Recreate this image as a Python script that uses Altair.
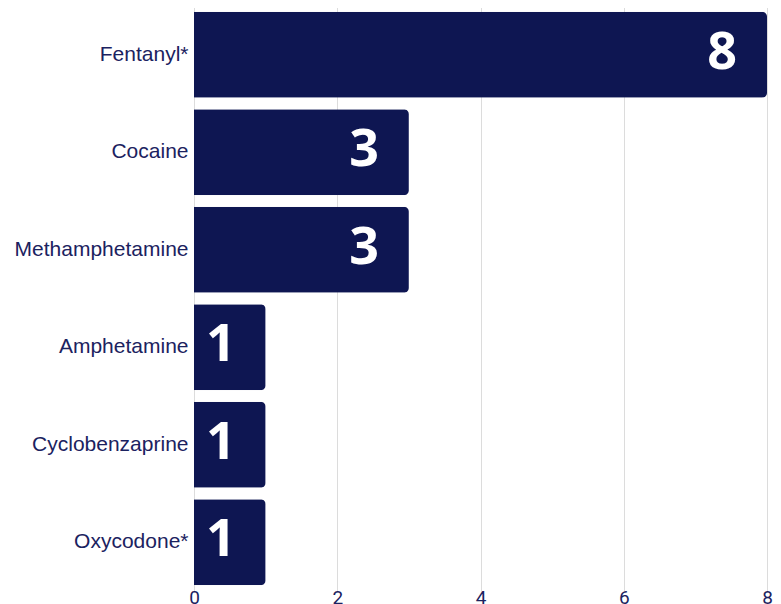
import altair as alt
import pandas as pd

drugs = ["Fentanyl*", "Cocaine", "Methamphetamine", "Amphetamine", "Cyclobenzaprine", "Oxycodone*"]
counts = [8, 3, 3, 1, 1, 1]
ticks = [0, 2, 4, 6, 8]

df = pd.DataFrame({"drug": drugs, "count": counts})

bar_color = "#0e1652"
text_color = "#1b2260"

y = alt.Y("drug:N", sort=drugs, title=None,
          scale=alt.Scale(paddingInner=0.12, paddingOuter=0.06),
          axis=alt.Axis(domain=False, ticks=False, labelFont="Liberation Sans",
                        labelFontSize=21, labelColor=text_color, labelPadding=6,
                        grid=False))
x = alt.X("count:Q", title=None,
          scale=alt.Scale(domain=[0, 8], nice=False),
          axis=alt.Axis(values=ticks, format="d", domain=False, ticks=False, grid=True,
                        gridColor="#dcdcdc", gridWidth=1,
                        labelFont="Roboto", labelFontSize=19, labelColor=text_color,
                        labelPadding=-3, labelFlush=False))

bars = alt.Chart(df).mark_bar(color=bar_color, cornerRadiusEnd=5).encode(x=x, y=y)
labels = alt.Chart(df).mark_text(align="right", baseline="middle", dx=-30, dy=-2,
                                 font="Open Sans", fontWeight="bold", fontSize=52,
                                 color="white").encode(
    x="count:Q", y=alt.Y("drug:N", sort=drugs), text="count:Q")

chart = (bars + labels).properties(
    width=573, height=585,
    padding={"top": -2, "left": 6, "right": 0, "bottom": 0},
).configure_view(stroke=None)

chart.save("out.html", embed_options={"renderer": "svg", "actions": False})
